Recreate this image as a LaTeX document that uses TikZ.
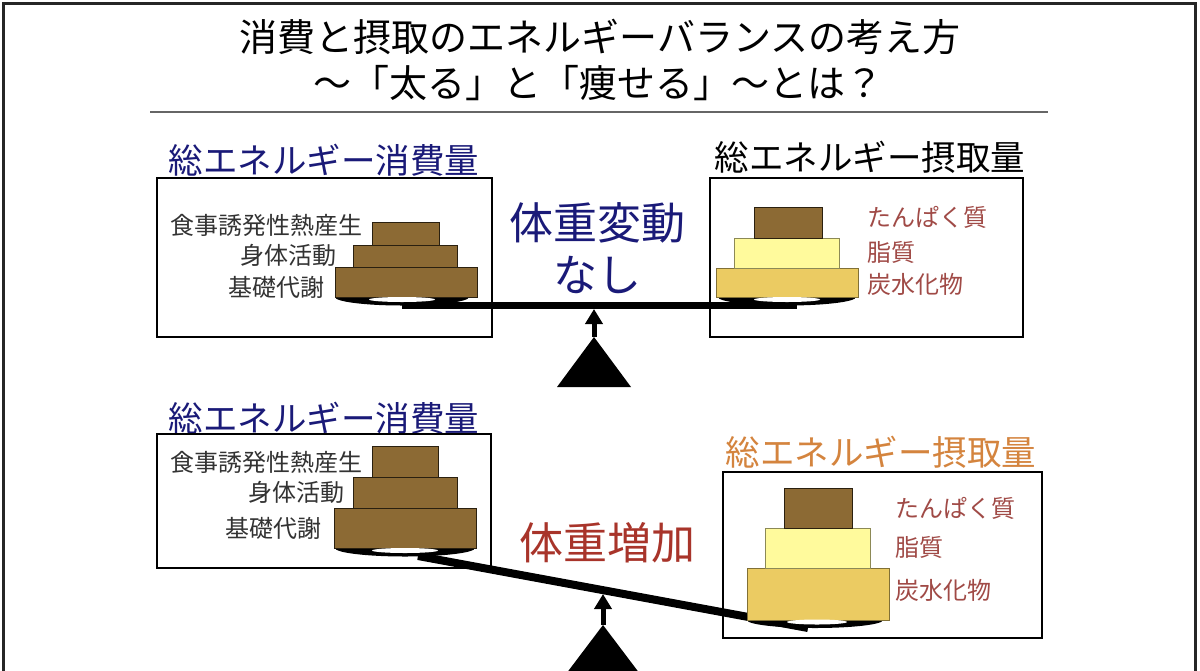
\documentclass[tikz,border=0pt]{standalone}
\usepackage{fontspec}
\setmainfont{Noto Sans CJK JP}
\usetikzlibrary{arrows.meta}
\definecolor{navy}{HTML}{1A1A78}
\definecolor{rose}{HTML}{A04A46}
\definecolor{gainred}{HTML}{A8342A}
\definecolor{orangett}{HTML}{D4843E}
\definecolor{cakebrown}{HTML}{8C6A34}
\definecolor{cakeyellow}{HTML}{FFFA9C}
\definecolor{cakegold}{HTML}{EBCB62}
\definecolor{txtgray}{HTML}{333333}
\begin{document}
\begin{tikzpicture}[x=1pt,y=-1pt,
  boxframe/.style={draw=black,line width=1.4pt},
  outerframe/.style={draw=black!85,line width=3pt},
  titlefont/.style={inner sep=0pt,font=\fontsize{38}{44}\selectfont,text=black},
  headfont/.style={inner sep=0pt,font=\fontsize{34.5}{40}\selectfont},
  bigfont/.style={inner sep=0pt,font=\fontsize{44}{50}\selectfont},
  lbl/.style={inner sep=0pt,font=\fontsize{24}{28}\selectfont,text=txtgray},
  rlbl/.style={inner sep=0pt,font=\fontsize{24}{28}\selectfont,text=rose},
  brownlayer/.style={fill=cakebrown,draw=black!70!cakebrown,line width=0.8pt},
  yellowlayer/.style={fill=cakeyellow,draw=black!45!cakeyellow,line width=0.8pt},
  goldlayer/.style={fill=cakegold,draw=black!45!cakegold,line width=0.8pt},
  beam/.style={draw=black,line cap=butt},
  fulcrum/.style={fill=black},
  pointer/.style={draw=black,line width=5pt,-{Triangle[length=15pt,width=17pt]}}
]
\useasboundingbox (0,0) rectangle (1200,670);
\clip (0,0) rectangle (1200,670);
\fill[white] (0,0) rectangle (1200,670);

% outer frame
\draw[outerframe] (3,675) -- (3,3) -- (1195,3) -- (1195,675);

% title
\node[titlefont] (t1) at (600,37) {消費と摂取のエネルギーバランスの考え方};
\node[titlefont] (t2) at (598,83) {～「太る」と「痩せる」～とは？};
\draw[draw=black!60,line width=2pt] (150,112) -- (1048,112);

% ================= upper balance =================
\node[headfont,text=navy] (h1) at (324,160) {総エネルギー消費量};
\node[headfont,text=black] (h2) at (870,157) {総エネルギー摂取量};
\draw[boxframe] (157,178) rectangle (492,337);
\draw[boxframe] (710,178) rectangle (1023,337);

% pans
\fill (402,297) ellipse [x radius=67pt, y radius=8.5pt];
\fill (787,297) ellipse [x radius=69pt, y radius=8.5pt];
\coordinate (bl1) at (402,305.5);
\coordinate (br1) at (797,305.5);
\draw[beam,line width=7pt] (bl1) -- (br1);

% left cake
\draw[brownlayer] (335,267) rectangle (477,297);
\draw[brownlayer] (353,245) rectangle (457,267);
\draw[brownlayer] (372,222) rectangle (439,245);
\fill[white] (402,299.5) ellipse [x radius=33pt, y radius=2.5pt];
% right cake
\draw[goldlayer] (716,268) rectangle (858,297);
\draw[yellowlayer] (734,238) rectangle (839,268);
\draw[brownlayer] (754,207) rectangle (822,238);
\fill[white] (787,299.5) ellipse [x radius=33pt, y radius=2.5pt];

\node[lbl,anchor=east] (a1) at (363,225) {食事誘発性熱産生};
\node[lbl,anchor=east] (a2) at (337,255) {身体活動};
\node[lbl,anchor=east] (a3) at (325,287) {基礎代謝};
\node[rlbl,anchor=west] (b1) at (867,217) {たんぱく質};
\node[rlbl,anchor=west] (b2) at (867,252) {脂質};
\node[rlbl,anchor=west] (b3) at (867,284) {炭水化物};

\node[bigfont,text=navy] (m1) at (597,223) {体重変動};
\node[bigfont,text=navy] (m2) at (597,275) {なし};

\coordinate (f1) at (594,337);
\coordinate (p1) at (594,309);
\fill[fulcrum] (f1) -- (557,387) -- (631,387) -- cycle;
\draw[pointer] (f1) -- (p1);

% ================= lower balance =================
\node[headfont,text=navy] (h3) at (324,418) {総エネルギー消費量};
\node[headfont,text=orangett] (h4) at (881,452) {総エネルギー摂取量};
\draw[boxframe] (157,434) rectangle (491,568);
\draw[boxframe] (723,472) rectangle (1042,638);

\fill (405,548) ellipse [x radius=70pt, y radius=8.5pt];
\fill (815,620) ellipse [x radius=68pt, y radius=8pt];
\coordinate (bl2) at (418,556);
\coordinate (br2) at (808,628);
\draw[beam,line width=8pt] (bl2) -- (br2);

% left cake
\draw[brownlayer] (334,508) rectangle (476,548);
\draw[brownlayer] (353,477) rectangle (457,508);
\draw[brownlayer] (372,446) rectangle (438,477);
\fill[white] (405,550.5) ellipse [x radius=33pt, y radius=2.5pt];
% right cake
\draw[goldlayer] (747,568) rectangle (889,620);
\draw[yellowlayer] (765,528) rectangle (870,568);
\draw[brownlayer] (784,488) rectangle (852,528);
\fill[white] (817,622) ellipse [x radius=30pt, y radius=2.5pt];

\node[lbl,anchor=east] (a4) at (363,462) {食事誘発性熱産生};
\node[lbl,anchor=east] (a5) at (345,492) {身体活動};
\node[lbl,anchor=east] (a6) at (322,528) {基礎代謝};
\node[rlbl,anchor=west] (b4) at (895,508) {たんぱく質};
\node[rlbl,anchor=west] (b5) at (895,547) {脂質};
\node[rlbl,anchor=west] (b6) at (895,590) {炭水化物};

\node[bigfont,text=gainred] (m3) at (607,543) {体重増加};

\coordinate (f2) at (603,625);
\coordinate (p2) at (603,594);
\fill[fulcrum] (f2) -- (566,674) -- (640,674) -- cycle;
\draw[pointer] (f2) -- (p2);
\end{tikzpicture}
\end{document}
